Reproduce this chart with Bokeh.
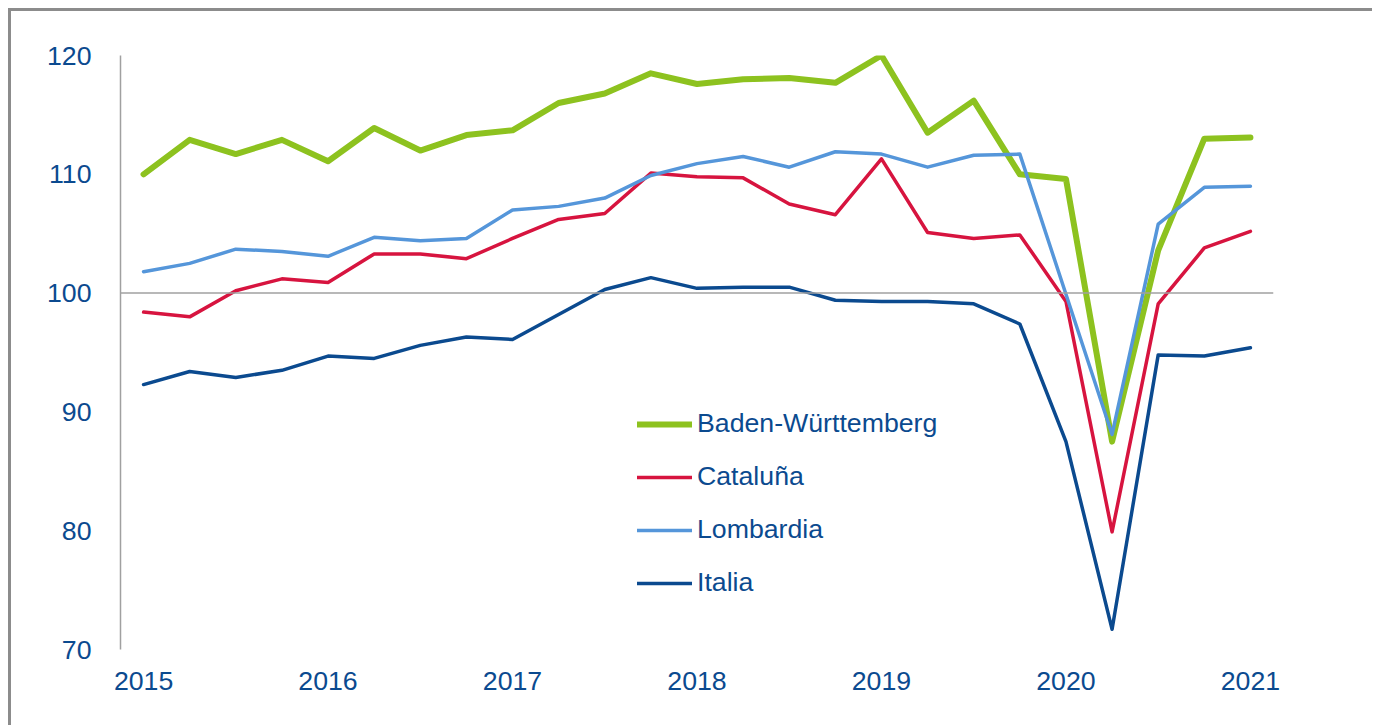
from bokeh.plotting import figure
from bokeh.models import Span, Legend, LegendItem, FixedTicker, Range1d
from bokeh.embed import file_html
from bokeh.resources import INLINE

quarters = ["2015Q1", "2015Q2", "2015Q3", "2015Q4",
            "2016Q1", "2016Q2", "2016Q3", "2016Q4",
            "2017Q1", "2017Q2", "2017Q3", "2017Q4",
            "2018Q1", "2018Q2", "2018Q3", "2018Q4",
            "2019Q1", "2019Q2", "2019Q3", "2019Q4",
            "2020Q1", "2020Q2", "2020Q3", "2020Q4",
            "2021Q1"]

baden = [110.0, 112.9, 111.7, 112.9, 111.1, 113.9, 112.0, 113.3, 113.7, 116.0,
         116.8, 118.5, 117.6, 118.0, 118.1, 117.7, 120.0, 113.5, 116.2, 110.0,
         109.6, 87.5, 103.6, 113.0, 113.1]
cataluna = [98.4, 98.0, 100.2, 101.2, 100.9, 103.3, 103.3, 102.9, 104.6, 106.2,
            106.7, 110.1, 109.8, 109.7, 107.5, 106.6, 111.3, 105.1, 104.6, 104.9,
            99.3, 79.9, 99.1, 103.8, 105.2]
lombardia = [101.8, 102.5, 103.7, 103.5, 103.1, 104.7, 104.4, 104.6, 107.0, 107.3,
             108.0, 109.9, 110.9, 111.5, 110.6, 111.9, 111.7, 110.6, 111.6, 111.7,
             99.9, 88.1, 105.8, 108.9, 109.0]
italia = [92.3, 93.4, 92.9, 93.5, 94.7, 94.5, 95.6, 96.3, 96.1, 98.2,
          100.3, 101.3, 100.4, 100.5, 100.5, 99.4, 99.3, 99.3, 99.1, 97.4,
          87.5, 71.7, 94.8, 94.7, 95.4]

series_names = ["Baden-Württemberg", "Cataluña", "Lombardia", "Italia"]
series_colors = ["#8DC21F", "#D7143F", "#5596DA", "#0B4A8F"]
series_widths = [6, 3.5, 3.5, 3.5]

year_ticks = [2015, 2016, 2017, 2018, 2019, 2020, 2021]
y_ticks = [70, 80, 90, 100, 110, 120]

x = [int(q[:4]) + (int(q[5]) - 1) * 0.25 for q in quarters]

TEXT = "#0B4A8F"
FONT = "Liberation Sans"
FS = "26.7px"

p = figure(width=1364, height=717, output_backend="svg", toolbar_location=None,
           x_range=Range1d(2014.875, 2021.125), y_range=Range1d(70, 120),
           min_border_left=109, min_border_right=102, min_border_top=44,
           min_border_bottom=79)
p.styles = {"border-left": "3px solid #8C8C8C", "border-top": "3px solid #8C8C8C",
            "margin-left": "8px", "margin-top": "8px"}
p.outline_line_color = None
p.background_fill_color = "white"
p.border_fill_color = "white"
p.grid.visible = False

p.xaxis.ticker = FixedTicker(ticks=year_ticks)
p.yaxis.ticker = FixedTicker(ticks=y_ticks)
for ax in (p.xaxis[0], p.yaxis[0]):
    ax.major_tick_line_color = None
    ax.minor_tick_line_color = None
    ax.major_label_text_font = FONT
    ax.major_label_text_font_size = FS
    ax.major_label_text_color = TEXT
p.xaxis.axis_line_color = None
p.yaxis.axis_line_color = "#A0A0A0"
p.yaxis.axis_line_width = 1.5
p.yaxis.major_label_standoff = 23
p.xaxis.major_label_standoff = 16

p.add_layout(Span(location=100, dimension="width", line_color="#A0A0A0", line_width=1.5))

items = []
for name, ys, c, w in zip(series_names, [baden, cataluna, lombardia, italia],
                          series_colors, series_widths):
    r = p.line(x, ys, line_color=c, line_width=w, line_join="round", line_cap="round")
    items.append(LegendItem(label=name, renderers=[r]))

legend = Legend(items=items, location=(517, 40), label_text_font=FONT,
                label_text_font_size=FS, label_text_color=TEXT,
                glyph_width=55, glyph_height=20, label_height=53, label_standoff=5,
                spacing=0, padding=0, margin=0, border_line_color=None,
                background_fill_alpha=0)
p.add_layout(legend)

open("out.html", "w").write(file_html(p, INLINE))
